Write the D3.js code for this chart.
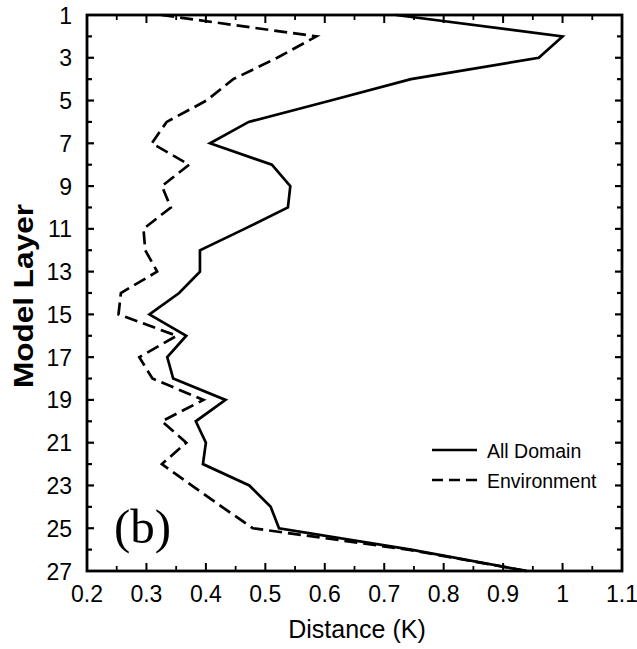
<!DOCTYPE html>
<html lang="en">
<head>
    <meta charset="UTF-8">
    <title>Model Layer Distance</title>
    <style>
        body, html {
            margin: 0;
            padding: 0;
            background-color: #ffffff;
        }
        svg {
            font-family: "Liberation Sans", Arial, sans-serif;
        }
        .line {
            fill: none;
            stroke: #000;
            stroke-width: 2.7px;
            stroke-linejoin: miter;
        }
        .dashed {
            stroke-dasharray: 13, 6;
        }
        .tick-label {
            font-size: 23px;
            fill: #000;
        }
    </style>
</head>
<body>
    <div id="chart"></div>

    <script src="https://d3js.org/d3.v7.min.js"></script>

    <script>
        // model layers 1..27 (1 at the top)
        const layers = d3.range(1, 28);
        const allDomain = [0.72, 1.00, 0.96, 0.745, 0.61, 0.472, 0.407, 0.511, 0.542, 0.538,
                           0.465, 0.39, 0.39, 0.355, 0.305, 0.367, 0.335, 0.345, 0.433, 0.383,
                           0.40, 0.395, 0.473, 0.509, 0.523, 0.745, 0.94];
        const environment = [0.325, 0.586, 0.52, 0.446, 0.401, 0.334, 0.309, 0.372, 0.326, 0.341,
                             0.295, 0.298, 0.318, 0.257, 0.253, 0.351, 0.288, 0.31, 0.396, 0.326,
                             0.367, 0.326, 0.376, 0.427, 0.479, 0.74, 0.94];
        const xTicks = [0.2, 0.3, 0.4, 0.5, 0.6, 0.7, 0.8, 0.9, 1, 1.1];
        const yTicks = [1, 3, 5, 7, 9, 11, 13, 15, 17, 19, 21, 23, 25, 27];
        const legendNames = ['All Domain', 'Environment'];

        const width = 637, height = 649;
        const plot = { left: 87, right: 622, top: 15, bottom: 571 };

        const svg = d3.select('#chart').append('svg')
            .attr('width', width)
            .attr('height', height);

        const x = d3.scaleLinear().domain([0.2, 1.1]).range([plot.left, plot.right]);
        const y = d3.scaleLinear().domain([1, 27]).range([plot.top, plot.bottom]);

        const minorX = d3.range(0.25, 1.1, 0.1);
        const minorY = d3.range(2, 27, 2);

        // ticks pointing inward on all four sides
        function xTickLines(yPos, dir) {
            svg.append('g').selectAll('line.maj')
                .data(xTicks.slice(1, -1)).enter().append('line')
                .attr('x1', d => x(d)).attr('x2', d => x(d))
                .attr('y1', yPos).attr('y2', yPos + dir * 8)
                .attr('stroke', '#000').attr('stroke-width', 2);
            svg.append('g').selectAll('line.min')
                .data(minorX).enter().append('line')
                .attr('x1', d => x(d)).attr('x2', d => x(d))
                .attr('y1', yPos).attr('y2', yPos + dir * 5)
                .attr('stroke', '#000').attr('stroke-width', 1.8);
        }
        function yTickLines(xPos, dir) {
            svg.append('g').selectAll('line.maj')
                .data(yTicks.slice(1, -1)).enter().append('line')
                .attr('y1', d => y(d)).attr('y2', d => y(d))
                .attr('x1', xPos).attr('x2', xPos + dir * 7)
                .attr('stroke', '#000').attr('stroke-width', 2.2);
            svg.append('g').selectAll('line.min')
                .data(minorY).enter().append('line')
                .attr('y1', d => y(d)).attr('y2', d => y(d))
                .attr('x1', xPos).attr('x2', xPos + dir * 5)
                .attr('stroke', '#000').attr('stroke-width', 2.2);
        }
        xTickLines(plot.top, 1);
        xTickLines(plot.bottom, -1);
        yTickLines(plot.left, 1);
        yTickLines(plot.right, -1);

        svg.append('rect')
            .attr('x', plot.left).attr('y', plot.top)
            .attr('width', plot.right - plot.left).attr('height', plot.bottom - plot.top)
            .attr('fill', 'none').attr('stroke', '#000').attr('stroke-width', 2.8);

        // tick labels
        svg.append('g').selectAll('text')
            .data(xTicks).enter().append('text')
            .attr('class', 'tick-label')
            .attr('x', d => x(d)).attr('y', 602)
            .attr('text-anchor', 'middle')
            .text(d => d3.format('~g')(d));

        svg.append('g').selectAll('text')
            .data(yTicks).enter().append('text')
            .attr('class', 'tick-label')
            .attr('x', 72).attr('y', d => y(d) + 8.5)
            .attr('text-anchor', 'end')
            .text(d => d);

        // axis titles
        svg.append('text')
            .attr('x', 357).attr('y', 638)
            .attr('text-anchor', 'middle')
            .attr('font-size', 25)
            .text('Distance (K)');

        svg.append('text')
            .attr('transform', 'translate(33,296) rotate(-90)')
            .attr('text-anchor', 'middle')
            .attr('font-size', 28)
            .attr('font-weight', 'bold')
            .attr('textLength', 184)
            .attr('lengthAdjust', 'spacingAndGlyphs')
            .text('Model Layer');

        // data lines
        const line = d3.line()
            .x(d => x(d[0]))
            .y(d => y(d[1]));

        svg.append('path')
            .datum(environment.map((v, i) => [v, layers[i]]))
            .attr('class', 'line dashed')
            .attr('d', line);

        svg.append('path')
            .datum(allDomain.map((v, i) => [v, layers[i]]))
            .attr('class', 'line')
            .attr('d', line);

        // panel label
        svg.append('text')
            .attr('x', 114).attr('y', 543)
            .attr('font-family', '"Liberation Serif", "Times New Roman", serif')
            .attr('font-size', 49)
            .text('(b)');

        // legend
        const legend = svg.append('g');
        legendNames.forEach((name, i) => {
            const ly = 450 + i * 30;
            legend.append('line')
                .attr('x1', 432).attr('x2', 477)
                .attr('y1', ly).attr('y2', ly)
                .attr('class', 'line')
                .attr('stroke-dasharray', i === 0 ? null : '11,6');
            legend.append('text')
                .attr('x', 487).attr('y', ly + 7.5)
                .attr('font-size', 19.5)
                .text(name);
        });
    </script>
</body>
</html>
